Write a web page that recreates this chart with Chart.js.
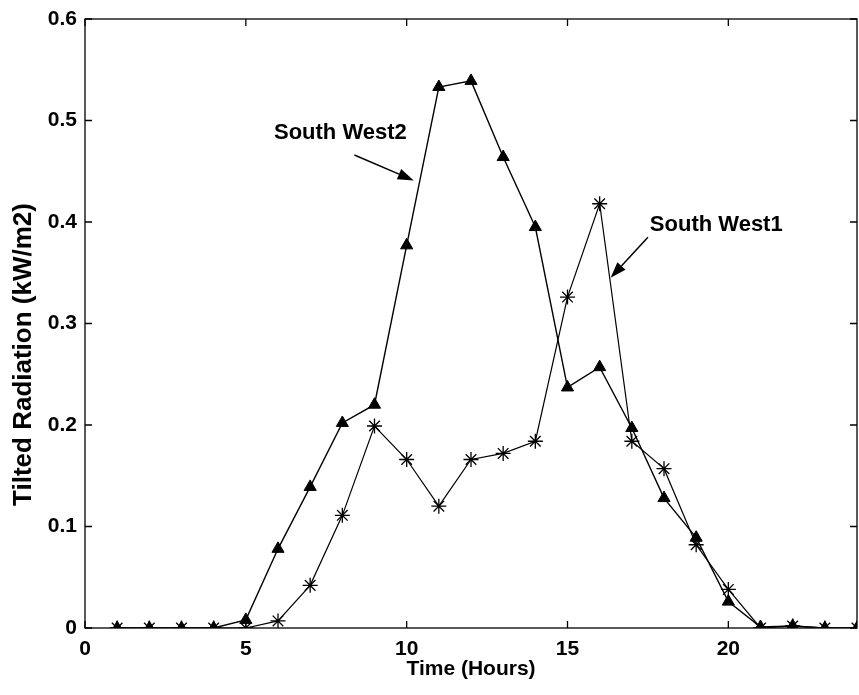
<!DOCTYPE html>
<html>
<head>
<meta charset="utf-8">
<script src="https://cdn.jsdelivr.net/npm/chart.js@4.4.1/dist/chart.umd.min.js"></script>
<style>
  html, body { margin: 0; padding: 0; background: #fff; overflow: hidden; }
  #wrap { width: 859px; height: 695px; }
</style>
</head>
<body>
<div id="wrap"><canvas id="chart"></canvas></div>
<script>
// ---------------------------------------------------------------------
// Data (hour of day -> tilted radiation, kW/m2)
// ---------------------------------------------------------------------
const HOURS = [1, 2, 3, 4, 5, 6, 7, 8, 9, 10, 11, 12, 13, 14, 15, 16, 17, 18, 19, 20, 21, 22, 23, 24];
const SOUTH_WEST2 = [0, 0, 0, 0, 0.008, 0.078, 0.139, 0.202, 0.220, 0.377, 0.533, 0.539,
                     0.464, 0.395, 0.237, 0.257, 0.197, 0.128, 0.089, 0.026, 0.001, 0.002, 0, 0];
const SOUTH_WEST1 = [0, 0, 0, 0, 0, 0.007, 0.042, 0.111, 0.199, 0.166, 0.120, 0.166,
                     0.172, 0.184, 0.326, 0.418, 0.184, 0.157, 0.082, 0.038, 0, 0.002, 0, 0];

const X_TICKS = [0, 5, 10, 15, 20];
const Y_TICKS = [0, 0.1, 0.2, 0.3, 0.4, 0.5, 0.6];

const X_TITLE = 'Time (Hours)';
const Y_TITLE = 'Tilted Radiation (kW/m2)';

// annotation labels and their arrows (data units)
const NOTE_TEXT  = ['South West2', 'South West1'];
const NOTE_AT    = [[5.875, 0.488], [17.56, 0.397]];
const ARROW_FROM = [[8.375, 0.466], [17.5, 0.385]];
const ARROW_TO   = [[10.22, 0.441], [16.34, 0.345]];

const FAMILY = "'Liberation Sans', Arial, sans-serif";
const TICK_FONT = { family: FAMILY, size: 21, weight: 'bold' };

const pts = vals => HOURS.map((h, i) => ({ x: h, y: vals[i] }));

// box round the plot with inward ticks on all four sides (MATLAB style)
const framePlugin = {
  id: 'frame',
  afterDatasetsDraw(chart) {
    const { ctx, chartArea: a, scales: { x, y } } = chart;
    const len = 7;
    ctx.save();
    ctx.strokeStyle = '#000';
    ctx.lineWidth = 1.3;
    ctx.strokeRect(a.left, a.top, a.right - a.left, a.bottom - a.top);
    ctx.beginPath();
    X_TICKS.forEach(v => {
      const px = x.getPixelForValue(v);
      ctx.moveTo(px, a.bottom); ctx.lineTo(px, a.bottom - len);
      ctx.moveTo(px, a.top);    ctx.lineTo(px, a.top + len);
    });
    Y_TICKS.forEach(v => {
      const py = y.getPixelForValue(v);
      ctx.moveTo(a.left, py);  ctx.lineTo(a.left + len, py);
      ctx.moveTo(a.right, py); ctx.lineTo(a.right - len, py);
    });
    ctx.stroke();

    // y title: sits a little below the middle of the axis in the original
    ctx.fillStyle = '#000';
    ctx.font = `bold 26px ${FAMILY}`;
    ctx.textAlign = 'center';
    ctx.textBaseline = 'middle';
    ctx.translate(24, (a.top + a.bottom) / 2 + 31);
    ctx.rotate(-Math.PI / 2);
    ctx.fillText(Y_TITLE, 0, 0);
    ctx.restore();
  }
};

// text labels with arrows
const notePlugin = {
  id: 'notes',
  afterDraw(chart) {
    const { ctx, scales: { x, y } } = chart;
    ctx.save();
    ctx.fillStyle = '#000';
    ctx.strokeStyle = '#000';
    ctx.font = `bold 22px ${FAMILY}`;
    ctx.textBaseline = 'middle';
    ctx.textAlign = 'left';
    NOTE_TEXT.forEach((t, i) => {
      ctx.fillText(t, x.getPixelForValue(NOTE_AT[i][0]), y.getPixelForValue(NOTE_AT[i][1]));

      const x0 = x.getPixelForValue(ARROW_FROM[i][0]), y0 = y.getPixelForValue(ARROW_FROM[i][1]);
      const x1 = x.getPixelForValue(ARROW_TO[i][0]),   y1 = y.getPixelForValue(ARROW_TO[i][1]);
      const ang = Math.atan2(y1 - y0, x1 - x0);
      const hl = 16, hw = 5.5;
      ctx.lineWidth = 1.5;
      ctx.beginPath();
      ctx.moveTo(x0, y0);
      ctx.lineTo(x1 - hl * Math.cos(ang), y1 - hl * Math.sin(ang));
      ctx.stroke();
      ctx.beginPath();
      ctx.moveTo(x1, y1);
      ctx.lineTo(x1 - hl * Math.cos(ang) + hw * Math.sin(ang), y1 - hl * Math.sin(ang) - hw * Math.cos(ang));
      ctx.lineTo(x1 - hl * Math.cos(ang) - hw * Math.sin(ang), y1 - hl * Math.sin(ang) + hw * Math.cos(ang));
      ctx.closePath();
      ctx.fill();
    });
    ctx.restore();
  }
};

new Chart(document.getElementById('chart'), {
  type: 'line',
  data: {
    datasets: [
      {
        label: 'South West2',
        data: pts(SOUTH_WEST2),
        borderColor: '#000',
        backgroundColor: '#000',
        borderWidth: 1.4,
        pointStyle: 'triangle',
        pointRadius: 7,
        pointBorderWidth: 1,
        tension: 0,
      },
      {
        label: 'South West1',
        data: pts(SOUTH_WEST1),
        borderColor: '#000',
        backgroundColor: '#000',
        borderWidth: 1.2,
        pointStyle: 'star',
        pointRadius: 7.5,
        pointBorderWidth: 1.3,
        tension: 0,
      },
    ]
  },
  options: {
    responsive: true,
    maintainAspectRatio: false,
    animation: false,
    layout: { autoPadding: false, padding: { top: 19, right: 2, left: 0, bottom: 0 } },
    plugins: {
      legend: { display: false },
      tooltip: { enabled: false },
    },
    scales: {
      x: {
        type: 'linear',
        min: 0, max: 24,
        afterBuildTicks: s => { s.ticks = X_TICKS.map(v => ({ value: v })); },
        afterFit: s => { s.height = 67; s.paddingLeft = 0; s.paddingRight = 0; },
        grid: { display: false, drawTicks: false },
        border: { display: false },
        ticks: { color: '#000', font: TICK_FONT, padding: 9, maxRotation: 0 },
        title: { display: true, text: X_TITLE, color: '#000', font: { family: FAMILY, size: 21, weight: 'bold' }, padding: { top: 13, bottom: 13 } },
      },
      y: {
        min: 0, max: 0.6,
        afterBuildTicks: s => { s.ticks = Y_TICKS.map(v => ({ value: v })); },
        afterFit: s => { s.width = 85; s.paddingTop = 0; s.paddingBottom = 0; },
        grid: { display: false, drawTicks: false },
        border: { display: false },
        ticks: { color: '#000', font: TICK_FONT, padding: 8 },
        title: { display: false },
      }
    }
  },
  plugins: [framePlugin, notePlugin]
});
</script>
</body>
</html>
